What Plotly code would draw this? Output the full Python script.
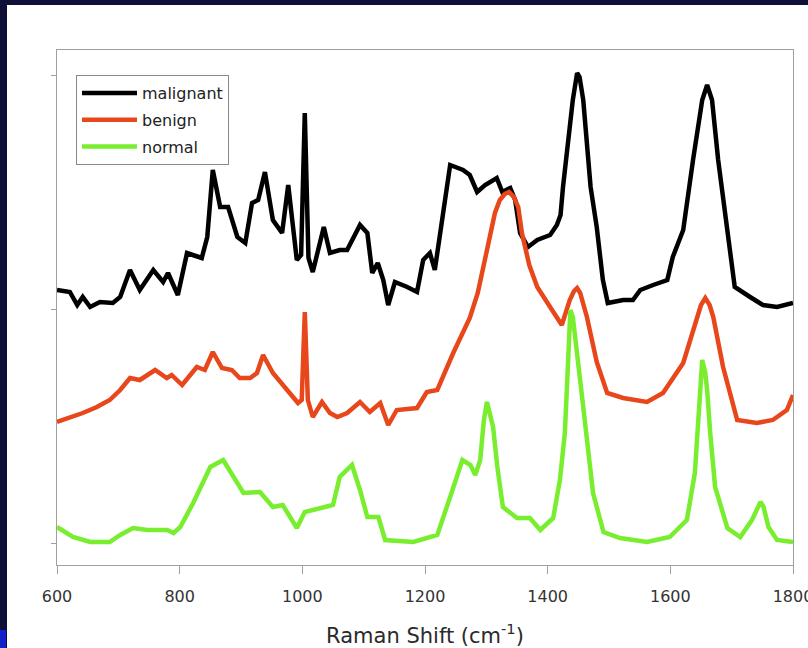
import plotly.graph_objects as go

# ---- data (Raman shift in cm^-1, intensity in arbitrary offset units) ----
wn_malignant = [600,621,633,642,654,670,691,703,719,735,757,773,781,797,812,836,845,854,866,879,
                894,907,918,928,939,952,967,977,991,998,1004,1010,1017,1035,1045,1061,1073,1094,1106,1114,
                1123,1132,1140,1151,1171,1187,1197,1208,1216,1228,1241,1262,1273,1285,1298,1317,1326,1339,1347,1355,
                1368,1383,1404,1415,1421,1425,1433,1441,1448,1452,1458,1464,1470,1480,1490,1498,1523,1539,1551,1572,
                1595,1604,1621,1637,1652,1660,1668,1678,1692,1697,1705,1730,1751,1774,1800]
int_malignant = [253,251,238,246,236,241,240,246,273,253,273,261,270,248,290,285,306,373,336,336,
                 306,300,340,343,371,323,310,358,283,288,430,285,271,316,290,293,293,318,310,270,
                 280,263,238,261,256,251,283,290,273,323,378,373,368,351,358,365,351,355,343,310,
                 296,303,308,318,328,356,403,443,470,466,443,403,356,316,263,240,243,243,253,258,
                 263,286,313,383,443,458,443,383,316,290,256,246,238,236,240]

wn_benign = [600,626,642,665,686,703,719,735,760,779,787,804,828,841,854,869,885,898,915,926,
             936,952,975,993,999,1004,1009,1017,1032,1045,1057,1073,1094,1110,1127,1140,1154,1187,1203,1220,
             1246,1273,1286,1296,1306,1314,1322,1330,1337,1345,1352,1358,1370,1383,1404,1423,1436,1443,1448,1453,
             1464,1480,1497,1523,1562,1588,1621,1643,1650,1657,1664,1670,1686,1709,1741,1767,1790,1800]
int_benign = [121,126,130,136,143,153,165,163,173,165,168,158,176,173,191,175,173,165,165,170,
              188,170,153,140,143,231,143,126,141,130,126,130,141,131,140,118,133,135,151,153,
              190,225,250,280,310,330,343,349,351,346,336,310,278,256,236,218,243,252,255,250,
              226,181,150,145,141,150,180,223,238,245,238,226,176,123,120,123,133,148]

wn_normal = [600,626,654,686,703,724,747,780,790,801,822,850,871,887,904,931,952,968,991,1004,
             1029,1050,1061,1081,1094,1106,1124,1135,1181,1220,1241,1261,1274,1282,1290,1296,1301,1306,1311,1318,
             1327,1350,1371,1388,1409,1420,1428,1432,1437,1441,1445,1451,1458,1474,1491,1518,1562,1599,1627,1640,
             1646,1652,1657,1660,1665,1673,1693,1714,1733,1742,1747,1752,1760,1774,1800]
int_normal = [16,6,1,1,8,15,13,13,10,16,40,76,83,66,50,51,36,38,15,31,
              35,38,66,78,53,26,26,3,1,8,46,83,78,68,83,123,141,128,116,76,
              36,25,25,13,25,63,110,163,233,226,203,170,136,50,11,5,1,6,23,70,
              130,183,170,153,110,56,15,6,23,36,41,36,16,3,1]

series_names = ["malignant", "benign", "normal"]
series_colors = ["#000000", "#e8461b", "#78ee2e"]
x_ticks = [600, 800, 1000, 1200, 1400, 1600, 1800]
y_ticks = [0, 234, 468]

# ---- layout geometry ----
W, H = 808, 648
ML, MR, MT, MB = 57, 15, 50, 83
PW, PH = W - ML - MR, H - MT - MB


def px_x(p):
    return (p - ML) / PW


def px_y(p):
    return (H - MB - p) / PH


fig = go.Figure()
for name, xs, ys, col in zip(series_names,
                             [wn_malignant, wn_benign, wn_normal],
                             [int_malignant, int_benign, int_normal],
                             series_colors):
    fig.add_trace(go.Scatter(x=xs, y=ys, mode="lines", name=name, legendgroup=name,
                             line=dict(color=col, width=4.5)))

navy = "#0f1038"
shapes = [
    dict(type="rect", xref="paper", yref="paper", x0=px_x(0), x1=px_x(7), y0=px_y(H), y1=px_y(0),
         fillcolor=navy, line=dict(width=0), layer="above"),
    dict(type="rect", xref="paper", yref="paper", x0=px_x(0), x1=px_x(W), y0=px_y(5), y1=px_y(0),
         fillcolor=navy, line=dict(width=0), layer="above"),
    dict(type="rect", xref="paper", yref="paper", x0=px_x(0), x1=px_x(6), y0=px_y(H), y1=px_y(630),
         fillcolor="#1420c8", line=dict(width=0), layer="above"),
]

axis_gray = "#a0a0a0"
fig.update_layout(
    width=W, height=H,
    margin=dict(l=ML, r=MR, t=MT, b=MB, autoexpand=False),
    paper_bgcolor="white", plot_bgcolor="white",
    font=dict(family="DejaVu Sans", color="#2a2a2a"),
    shapes=shapes,
    showlegend=True,
    legend=dict(x=px_x(76), y=px_y(75), xanchor="left", yanchor="top",
                bgcolor="white", bordercolor="#8a8a8a", borderwidth=1,
                font=dict(size=16, family="DejaVu Sans", color="#222222"),
                traceorder="grouped", tracegroupgap=3, itemwidth=55),
    xaxis=dict(range=[600, 1800], tickvals=x_ticks, ticktext=[str(v) for v in x_ticks],
               showgrid=False, zeroline=False, showline=True, linecolor=axis_gray, linewidth=1,
               mirror=True, ticks="outside", ticklen=8, tickcolor=axis_gray, automargin=False,
               tickfont=dict(size=16, color="#333333"), ticklabelstandoff=9, ticklabeloverflow="allow",
               title=dict(text="Raman Shift (cm<sup>-1</sup>)", standoff=24,
                          font=dict(size=21, color="#2a2a2a"))),
    yaxis=dict(range=[-22, 493], tickvals=y_ticks, showticklabels=False, automargin=False,
               showgrid=False, zeroline=False, showline=True, linecolor=axis_gray, linewidth=1,
               mirror=True, ticks="outside", ticklen=5, tickcolor=axis_gray),
)

fig.write_html("out.html")
